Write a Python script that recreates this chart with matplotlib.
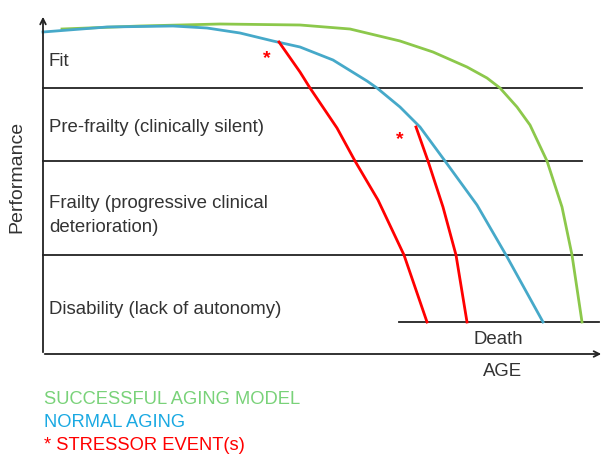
import matplotlib.pyplot as plt
import numpy as np

# curve points (x = age, y = height from top, in picture units)
green_x = [62, 140, 220, 300, 350, 400, 433, 467, 487, 500, 517, 530, 547, 562, 572, 582]
green_y = [29, 26, 24, 25, 29, 41, 52, 67, 78, 88, 107, 125, 161, 207, 255, 322]

blue_x = [43, 107, 173, 207, 240, 273, 300, 333, 367, 377, 400, 420, 445, 477, 506, 543]
blue_y = [32, 27, 26, 28, 33, 41, 47, 60, 81, 88, 107, 127, 161, 205, 255, 322]

red1_x = [279, 300, 310, 337, 355, 378, 404, 427]
red1_y = [42, 72, 88, 128, 161, 200, 255, 322]

red2_x = [416, 428, 443, 456, 467]
red2_y = [127, 161, 207, 255, 322]

stars = [(267, 56), (400, 137)]

band_lines = [88, 161, 255]
band_labels = ["Fit", "Pre-frailty (clinically silent)",
               "Frailty (progressive clinical\ndeterioration)",
               "Disability (lack of autonomy)"]
band_label_y = [60, 126, 202, 307]

legend_items = [("SUCCESSFUL AGING MODEL", "#79d279"),
                ("NORMAL AGING", "#1aa9e2"),
                ("* STRESSOR EVENT(s)", "#ff0000")]

plt.rcParams['font.family'] = ['Liberation Sans', 'DejaVu Sans']

fig = plt.figure(figsize=(6.04, 4.55), dpi=100)
ax = fig.add_axes([0, 0, 1, 1])
ax.set_xlim(0, 604)
ax.set_ylim(455, 0)
ax.axis('off')

dark = "#222222"
for y in band_lines:
    ax.plot([43, 582], [y, y], color=dark, lw=1.3)
ax.plot([399, 599], [322, 322], color=dark, lw=1.3)

# axes with arrows
ax.annotate("", xy=(43, 14), xytext=(43, 355), annotation_clip=False,
            arrowprops=dict(arrowstyle="->", color=dark, lw=1.3))
ax.annotate("", xy=(604, 354), xytext=(42, 354), annotation_clip=False,
            arrowprops=dict(arrowstyle="->", color=dark, lw=1.3))

ax.plot(green_x, green_y, color="#8cc84b", lw=2, solid_joinstyle='round')
ax.plot(blue_x, blue_y, color="#46a9c9", lw=2, solid_joinstyle='round')
ax.plot(red1_x, red1_y, color="#ff0000", lw=2, solid_joinstyle='round')
ax.plot(red2_x, red2_y, color="#ff0000", lw=2, solid_joinstyle='round')
for sx, sy in stars:
    ax.text(sx, sy + 3, "*", color="#ff0000", fontsize=14, fontweight='bold',
            ha='center', va='center')

txt = "#333333"
for lab, y in zip(band_labels, band_label_y):
    for k, part in enumerate(lab.split("\n")):
        ax.text(49, y + 2 + k * 24, part, color=txt, fontsize=13.4,
                va='center', ha='left')

ax.text(498, 340, "Death", color=txt, fontsize=13.4, ha='center', va='center')
ax.text(503, 372, "AGE", color=txt, fontsize=13.4, ha='center', va='center')
ax.text(17, 177, "Performance", color=txt, fontsize=14, rotation=90,
        ha='center', va='center')

for i, (lab, c) in enumerate(legend_items):
    ax.text(44, 399 + i * 23.5, lab, color=c, fontsize=13.2,
            ha='left', va='center')

fig.savefig("out.png", dpi=100)
